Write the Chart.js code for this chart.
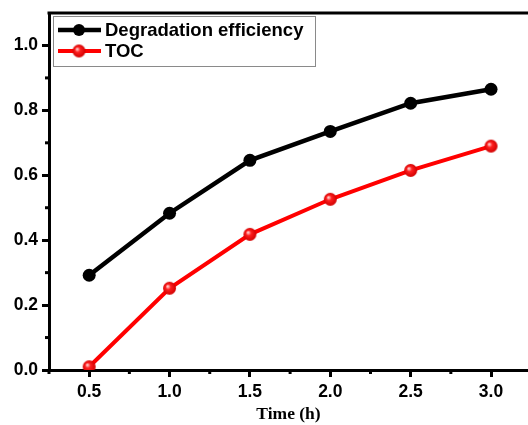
<!DOCTYPE html>
<html>
<head>
<meta charset="utf-8">
<script src="https://cdn.jsdelivr.net/npm/chart.js@4"></script>
<style>
  html, body { margin: 0; padding: 0; background: #fff; overflow: hidden; }
</style>
</head>
<body>
<canvas id="chart" width="528" height="425"></canvas>
<script>
const timeHours = [0.5, 1.0, 1.5, 2.0, 2.5, 3.0];
const degradation = [0.292, 0.483, 0.646, 0.735, 0.822, 0.865];
const toc = [0.01, 0.252, 0.418, 0.526, 0.615, 0.69];
const xMajorTicks = [0.5, 1.0, 1.5, 2.0, 2.5, 3.0];
const xMinorTicks = [0.25, 0.75, 1.25, 1.75, 2.25, 2.75];
const yMajorTicks = [0.0, 0.2, 0.4, 0.6, 0.8, 1.0];
const yMinorTicks = [0.1, 0.3, 0.5, 0.7, 0.9];
const seriesLabels = ['Degradation efficiency', 'TOC'];

// shiny red ball used for the TOC markers
function makeBall(r) {
    const c = document.createElement('canvas');
    c.width = c.height = r * 2 + 2;
    const g = c.getContext('2d');
    const grad = g.createRadialGradient(r - 1, r - 1, 0.5, r + 1, r + 1, r);
    grad.addColorStop(0, '#ffd0d0');
    grad.addColorStop(0.35, '#ff2020');
    grad.addColorStop(1, '#d00000');
    g.fillStyle = grad;
    g.beginPath();
    g.arc(r + 1, r + 1, r, 0, Math.PI * 2);
    g.fill();
    return c;
}
const redBall = makeBall(6.5);

const framePlugin = {
    id: 'frame',
    afterDraw(chart) {
        const ctx = chart.ctx;
        const area = chart.chartArea;
        const x = chart.scales.x, y = chart.scales.y;
        ctx.save();
        // top border
        ctx.strokeStyle = '#000';
        ctx.lineWidth = 3;
        ctx.beginPath();
        ctx.moveTo(area.left - 1.5, area.top);
        ctx.lineTo(area.right, area.top);
        ctx.stroke();
        // minor ticks
        xMinorTicks.forEach(v => {
            const px = x.getPixelForValue(v);
            ctx.beginPath();
            ctx.moveTo(px, area.bottom);
            ctx.lineTo(px, area.bottom + 4);
            ctx.stroke();
        });
        yMinorTicks.forEach(v => {
            const py = y.getPixelForValue(v);
            ctx.beginPath();
            ctx.moveTo(area.left, py);
            ctx.lineTo(area.left - 4, py);
            ctx.stroke();
        });
        // legend box
        const lx = 53, ly = 16, lw = 262, lh = 50;
        ctx.lineWidth = 1;
        ctx.strokeStyle = '#8a8a8a';
        ctx.strokeRect(lx + 0.5, ly + 0.5, lw, lh);
        const rows = [ly + 14, ly + 35];
        chart.data.datasets.forEach((ds, i) => {
            const ry = rows[i];
            ctx.strokeStyle = ds.borderColor;
            ctx.lineWidth = ds.borderWidth;
            ctx.beginPath();
            ctx.moveTo(lx + 5, ry);
            ctx.lineTo(lx + 48, ry);
            ctx.stroke();
            if (i === 0) {
                ctx.fillStyle = '#000';
                ctx.beginPath();
                ctx.arc(lx + 26, ry, 6, 0, Math.PI * 2);
                ctx.fill();
            } else {
                ctx.drawImage(redBall, lx + 26 - redBall.width / 2, ry - redBall.height / 2);
            }
            ctx.fillStyle = '#000';
            ctx.font = 'bold 18.5px "Liberation Sans", Arial, sans-serif';
            ctx.textBaseline = 'middle';
            ctx.textAlign = 'left';
            ctx.fillText(ds.label, lx + 52, ry + 1);
        });
        ctx.restore();
    }
};

new Chart(document.getElementById('chart'), {
    type: 'line',
    data: {
        datasets: [{
            label: seriesLabels[0],
            data: timeHours.map((t, i) => ({ x: t, y: degradation[i] })),
            borderColor: '#000',
            backgroundColor: '#000',
            borderWidth: 4.5,
            pointRadius: 6.5,
            pointBorderWidth: 0
        }, {
            label: seriesLabels[1],
            data: timeHours.map((t, i) => ({ x: t, y: toc[i] })),
            borderColor: '#ff0000',
            backgroundColor: '#ff0000',
            borderWidth: 4,
            pointStyle: redBall,
            pointRadius: 6.5
        }]
    },
    options: {
        responsive: false,
        animation: false,
        layout: { autoPadding: false, padding: { top: 13, right: 0, left: 0, bottom: 0 } },
        plugins: {
            legend: { display: false },
            tooltip: { enabled: false }
        },
        scales: {
            x: {
                type: 'linear',
                min: 0.25,
                max: 3.23,
                afterBuildTicks: axis => { axis.ticks = xMajorTicks.map(v => ({ value: v })); },
                afterFit: axis => {
                    axis.height = 55;
                    axis.paddingLeft = 0;
                    axis.paddingRight = 0;
                },
                border: { display: true, color: '#000', width: 3 },
                grid: { drawOnChartArea: false, drawTicks: true, tickLength: 7, tickWidth: 3, tickColor: '#000' },
                ticks: {
                    color: '#000',
                    padding: 5,
                    maxRotation: 0,
                    font: { family: '"Liberation Sans", Arial, sans-serif', size: 17.5, weight: 'bold' },
                    callback: v => v.toFixed(1)
                },
                title: {
                    display: true,
                    text: 'Time (h)',
                    color: '#000',
                    padding: { top: 0, bottom: 0 },
                    font: { family: '"Liberation Serif", "Times New Roman", serif', size: 17.5, weight: 'bold' }
                }
            },
            y: {
                min: 0,
                max: 1.1,
                afterBuildTicks: axis => { axis.ticks = yMajorTicks.map(v => ({ value: v })); },
                afterFit: axis => {
                    axis.width = 49;
                    axis.paddingTop = 0;
                    axis.paddingBottom = 0;
                },
                border: { display: true, color: '#000', width: 3 },
                grid: { drawOnChartArea: false, drawTicks: true, tickLength: 7, tickWidth: 3, tickColor: '#000' },
                ticks: {
                    color: '#000',
                    padding: 4,
                    font: { family: '"Liberation Sans", Arial, sans-serif', size: 17.5, weight: 'bold' },
                    callback: v => v.toFixed(1)
                }
            }
        }
    },
    plugins: [framePlugin]
});
</script>
</body>
</html>
